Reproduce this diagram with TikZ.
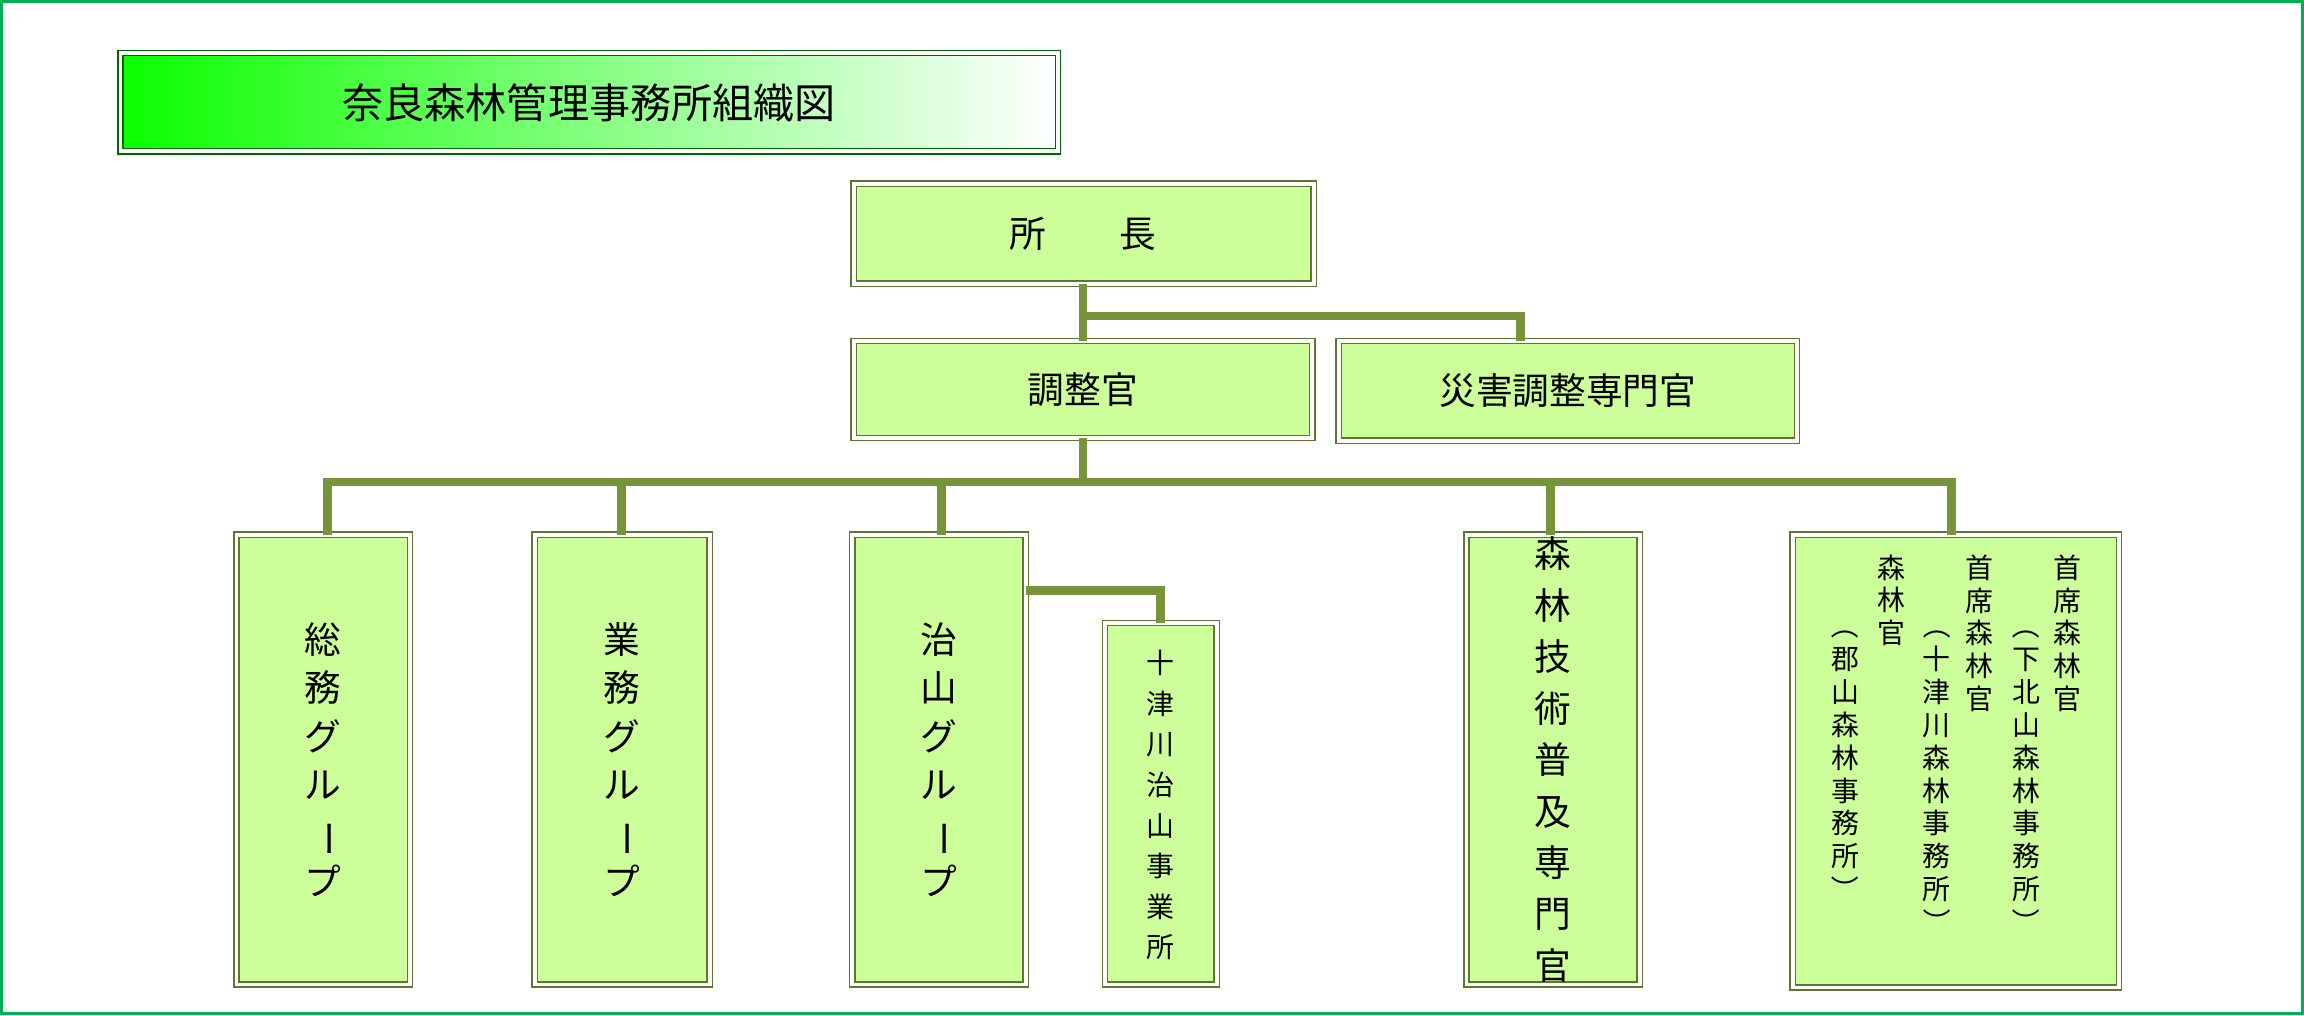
\documentclass[tikz,border=0pt]{standalone}
\usepackage{fontspec}
\usepackage{graphicx}
\newfontfamily\jp{Noto Sans CJK JP}
\definecolor{bx}{HTML}{CCFF99}
\definecolor{ln}{HTML}{77933C}
\definecolor{fr}{HTML}{00B050}
\newcommand\vbar{\rotatebox[origin=c]{-90}{ー}}
\newcommand\lp{\rotatebox[origin=c]{-90}{（}}
\newcommand\rp{\rotatebox[origin=c]{-90}{）}}
\begin{document}
\begin{tikzpicture}[x=0.5pt,y=-0.5pt,
  box/.style={draw=ln!80!black,line width=0.5pt,double=white,double distance=1.3pt,fill=bx},
  con/.style={draw=ln,line width=3pt},
  big/.style={font=\jp\fontsize{12.5}{16.5}\selectfont,align=center,inner sep=0pt},
  sm/.style={font=\jp\fontsize{9.5}{11.2}\selectfont,align=center,inner sep=0pt,anchor=north}]
\useasboundingbox (0,0) rectangle (1568,691);
\draw[fr,line width=1pt] (1,1) rectangle (1567,690);
\shade[left color=green!95!lime,right color=white] (82,36) rectangle (720,103);
\draw[green!40!black,line width=0.5pt,double=white,double distance=1.3pt] (82,36) rectangle (720,103);
\node[big,font=\jp\fontsize{14}{16}\selectfont] (title) at (401,70) {奈良森林管理事務所組織図};
% boxes
\filldraw[box] (581,125) rectangle (894,193); \node[big] (cho) at (737,159) {所\hspace{2em}長};
\filldraw[box] (581,232) rectangle (893,298); \node[big] (chosei) at (737,265) {調整官};
\filldraw[box] (911,232) rectangle (1223,300); \node[big] (saigai) at (1067,266) {災害調整専門官};
\filldraw[box] (161,364) rectangle (279,670); \node[big] (somu) at (220,517) {総\\務\\グ\\ル\\\vbar\\プ};
\filldraw[box] (364,364) rectangle (483,670); \node[big] (gyomu) at (423,517) {業\\務\\グ\\ル\\\vbar\\プ};
\filldraw[box] (580,364) rectangle (698,670); \node[big] (chisan) at (639,517) {治\\山\\グ\\ル\\\vbar\\プ};
\filldraw[box] (752,424) rectangle (828,670); \node[big,font=\jp\fontsize{9.5}{13.8}\selectfont] (totsu) at (790,548) {十\\津\\川\\治\\山\\事\\業\\所};
\filldraw[box] (998,364) rectangle (1116,670); \node[big,font=\jp\fontsize{12.5}{17.5}\selectfont] (gijutsu) at (1057,517) {森\\林\\技\\術\\普\\及\\専\\門\\官};
\filldraw[box] (1220,364) rectangle (1442,672);
\node[sm] (c1) at (1407,377) {首\\席\\森\\林\\官};
\node[sm] (c2) at (1379,416) {\lp\\下\\北\\山\\森\\林\\事\\務\\所\\\rp};
\node[sm] (c3) at (1347,377) {首\\席\\森\\林\\官};
\node[sm] (c4) at (1318,416) {\lp\\十\\津\\川\\森\\林\\事\\務\\所\\\rp};
\node[sm] (c5) at (1287,377) {森\\林\\官};
\node[sm] (c6) at (1256,416) {\lp\\郡\\山\\森\\林\\事\\務\\所\\\rp};
\coordinate (kori) at (1331,364);
% connectors
\draw[con] (737,193) -- (737,232);
\draw[con] (737,215) -- (1035,215) -- (1035,232);
\draw[con] (737,298) -- (737,328);
\draw[con] (223,364) -- (223,328) -- (1328,328) -- (1328,364);
\draw[con] (423,328) -- (423,364);
\draw[con] (641,328) -- (641,364);
\draw[con] (1055,328) -- (1055,364);
\draw[con] (698,402) -- (790,402) -- (790,424);
\end{tikzpicture}
\end{document}
